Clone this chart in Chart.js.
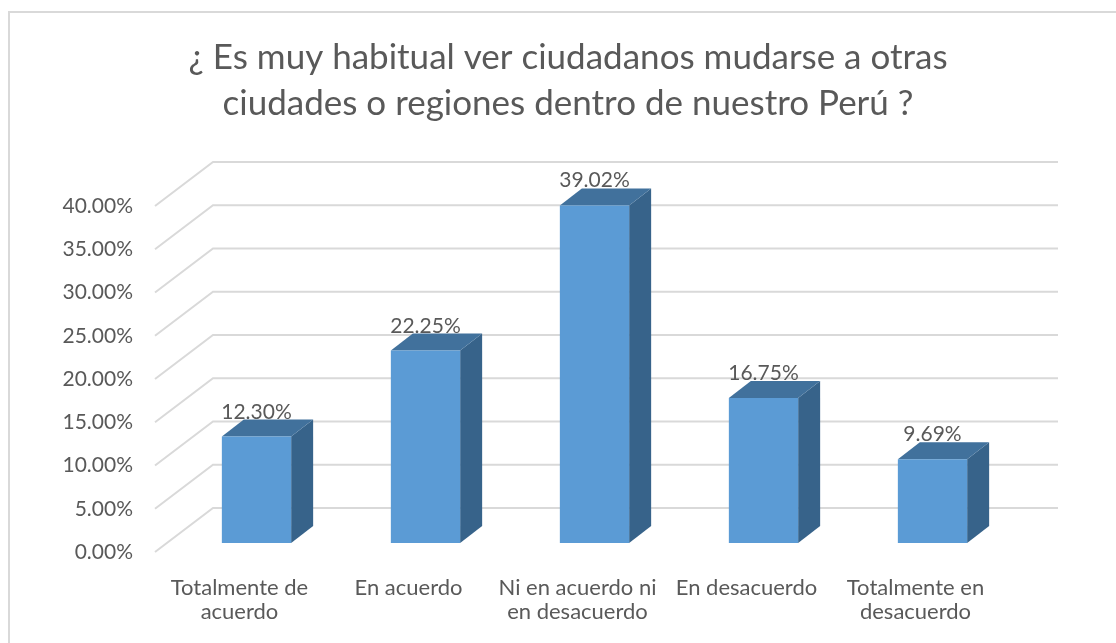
<!DOCTYPE html>
<html lang="es">
<head>
<meta charset="utf-8">
<title>Gráfica</title>
<script src="https://cdn.jsdelivr.net/npm/chart.js@4.4.1/dist/chart.umd.min.js"></script>
<style>
  body { margin: 0; background: #fff; }
  canvas { display: block; }
</style>
</head>
<body>
<canvas id="grafica" width="1116" height="643"></canvas>
<script>
// Datos de la gráfica
const titulo = ['¿ Es muy habitual ver ciudadanos mudarse a otras', 'ciudades o regiones dentro de nuestro Perú ?'];
const etiquetas = [
    ['Totalmente de', 'acuerdo'],
    'En acuerdo',
    ['Ni en acuerdo ni', 'en desacuerdo'],
    'En desacuerdo',
    ['Totalmente en', 'desacuerdo']
];
const porcentajes = [12.30, 22.25, 39.02, 16.75, 9.69];
const marcasY = [0, 5, 10, 15, 20, 25, 30, 35, 40];

// Desplazamientos para simular la profundidad (3D estilo Excel)
const FONDO = { dx: 58, dy: -44 };        // pared del fondo
const FRENTE_BARRA = { dx: 17, dy: -9 };  // cara frontal de la barra
const PROF_BARRA = { dx: 22, dy: -17 };   // grosor de la barra

const colorTexto = '#595959';
const colorRejilla = '#d9d9d9';
const colorFrente = '#5b9bd5';
const colorArriba = '#41719c';
const colorLado = '#37638a';

Chart.defaults.font.family = 'Lato, "Noto Sans", sans-serif';
Chart.defaults.color = colorTexto;

const efecto3D = {
    id: 'efecto3D',
    beforeDraw(chart) {
        // Marco del gráfico
        const ctx = chart.ctx;
        ctx.save();
        ctx.strokeStyle = colorRejilla;
        ctx.lineWidth = 2;
        ctx.beginPath();
        ctx.moveTo(9, chart.height + 5);
        ctx.lineTo(9, 12);
        ctx.lineTo(chart.width + 5, 12);
        ctx.stroke();
        ctx.restore();
    },
    beforeDatasetsDraw(chart) {
        const ctx = chart.ctx;
        const area = chart.chartArea;
        const y = chart.scales.y;
        // Líneas de la rejilla: diagonal en la pared izquierda y horizontal al fondo
        ctx.save();
        ctx.strokeStyle = colorRejilla;
        ctx.lineWidth = 2;
        marcasY.forEach(v => {
            const py = y.getPixelForValue(v);
            ctx.beginPath();
            ctx.moveTo(area.left, py);
            ctx.lineTo(area.left + FONDO.dx, py + FONDO.dy);
            ctx.lineTo(area.right + FONDO.dx, py + FONDO.dy);
            ctx.stroke();
        });
        // Caras superior y lateral de cada barra
        chart.getDatasetMeta(0).data.forEach(barra => {
            const izq = barra.x - barra.width / 2 + FRENTE_BARRA.dx;
            const der = barra.x + barra.width / 2 + FRENTE_BARRA.dx;
            const arriba = barra.y + FRENTE_BARRA.dy;
            const abajo = barra.base + FRENTE_BARRA.dy;
            ctx.fillStyle = colorLado;
            ctx.beginPath();
            ctx.moveTo(der, arriba);
            ctx.lineTo(der + PROF_BARRA.dx, arriba + PROF_BARRA.dy);
            ctx.lineTo(der + PROF_BARRA.dx, abajo + PROF_BARRA.dy);
            ctx.lineTo(der, abajo);
            ctx.closePath();
            ctx.fill();
            ctx.fillStyle = colorArriba;
            ctx.beginPath();
            ctx.moveTo(izq, arriba);
            ctx.lineTo(izq + PROF_BARRA.dx, arriba + PROF_BARRA.dy);
            ctx.lineTo(der + PROF_BARRA.dx, arriba + PROF_BARRA.dy);
            ctx.lineTo(der, arriba);
            ctx.closePath();
            ctx.fill();
        });
        ctx.restore();
    },
    beforeDatasetDraw(chart) {
        chart.ctx.save();
        chart.ctx.translate(FRENTE_BARRA.dx, FRENTE_BARRA.dy);
    },
    afterDatasetDraw(chart) {
        chart.ctx.restore();
    },
    afterDatasetsDraw(chart) {
        // Etiquetas con el porcentaje encima de cada barra
        const ctx = chart.ctx;
        ctx.save();
        ctx.font = '21px ' + Chart.defaults.font.family;
        ctx.fillStyle = colorTexto;
        ctx.textAlign = 'center';
        ctx.textBaseline = 'alphabetic';
        chart.getDatasetMeta(0).data.forEach((barra, i) => {
            const x = barra.x + FRENTE_BARRA.dx;
            const yTexto = barra.y + FRENTE_BARRA.dy + PROF_BARRA.dy - 1;
            ctx.fillText(porcentajes[i].toFixed(2) + '%', x, yTexto);
        });
        ctx.restore();
    }
};

const $grafica = document.querySelector('#grafica');

new Chart($grafica, {
    type: 'bar',
    data: {
        labels: etiquetas,
        datasets: [{
            data: porcentajes,
            backgroundColor: colorFrente,
            borderWidth: 0,
            categoryPercentage: 1,
            barPercentage: 0.41,
            clip: false
        }]
    },
    options: {
        responsive: false,
        animation: false,
        layout: { padding: { left: 20, top: 0, right: 0, bottom: 0 } },
        plugins: {
            legend: { display: false },
            tooltip: { enabled: false },
            title: {
                display: true,
                text: titulo,
                color: colorTexto,
                font: { size: 35, weight: 'normal', lineHeight: 1.3 },
                padding: { top: 35, bottom: 80 }
            }
        },
        scales: {
            x: {
                grid: { display: false, drawTicks: false },
                border: { display: false },
                ticks: { font: { size: 22, lineHeight: 1.1 }, padding: 24, maxRotation: 0, autoSkip: false },
                afterFit: escala => { escala.height = 91; }
            },
            y: {
                min: 0,
                max: 40,
                grid: { display: false, drawTicks: false },
                border: { display: false },
                afterBuildTicks: escala => { escala.ticks = marcasY.map(v => ({ value: v })); },
                ticks: {
                    font: { size: 21 },
                    padding: 22,
                    callback: v => v.toFixed(2) + '%'
                },
                afterFit: escala => { escala.width = 135; }
            },
            // Eje vacío a la derecha: deja el espacio de la pared del fondo
            derecha: {
                position: 'right',
                grid: { display: false, drawTicks: false },
                border: { display: false },
                ticks: { display: false },
                afterFit: escala => { escala.width = 116; }
            }
        }
    },
    plugins: [efecto3D]
});
</script>
</body>
</html>
